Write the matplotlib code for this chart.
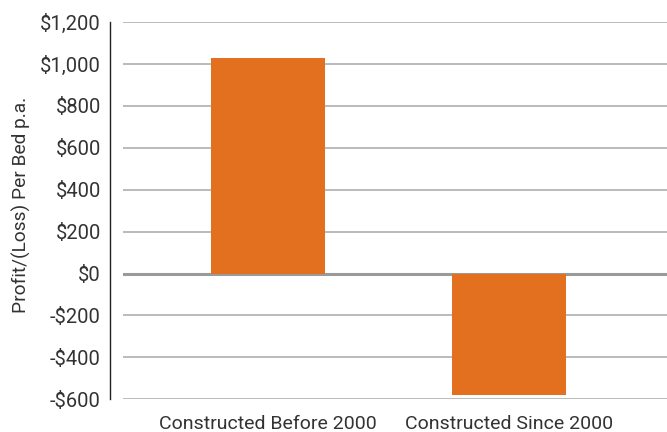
import matplotlib.pyplot as plt
from matplotlib.ticker import FuncFormatter

# data
categories = ['Constructed Before 2000', 'Constructed Since 2000']
profit_per_bed = [1030, -580]
y_ticks = [-600, -400, -200, 0, 200, 400, 600, 800, 1000, 1200]

plt.rcParams['font.family'] = ['Roboto', 'DejaVu Sans']

fig = plt.figure(figsize=(6.67, 4.32), dpi=100)
ax = fig.add_axes([0.1844, 0.0757, 0.8156, 0.8733])

x = range(len(categories))
ax.bar(x, profit_per_bed, width=0.473, color='#E3701E', zorder=3)

ax.set_ylim(-600, 1200)
ax.set_xlim(-0.602, 1.656)
ax.set_yticks(y_ticks)
ax.set_xticks(list(x))
ax.set_xticklabels(categories)

def money(v, pos):
    if v < 0:
        return '-${:,.0f}'.format(-v)
    return '${:,.0f}'.format(v)
ax.yaxis.set_major_formatter(FuncFormatter(money))

# grid and zero line
for t in y_ticks:
    if t == 0:
        ax.axhline(t, color='#9A9A9A', lw=2.2, zorder=2)
    else:
        ax.axhline(t, color='#A8A8A8', lw=1.1, zorder=1)

for s in ['top', 'right', 'bottom']:
    ax.spines[s].set_visible(False)
ax.spines['left'].set_position(('outward', 9))
ax.spines['left'].set_color('#222222')
ax.spines['left'].set_linewidth(1.0)

ax.tick_params(axis='y', length=0, pad=7, labelsize=14.5, labelcolor='#333333')
ax.tick_params(axis='x', length=0, pad=11, labelsize=14, labelcolor='#333333')
ax.set_ylabel('Profit/(Loss) Per Bed p.a.', fontsize=13.8, color='#333333')
ax.yaxis.set_label_coords(-0.169, 0.516)

fig.savefig('out.png', dpi=100)
